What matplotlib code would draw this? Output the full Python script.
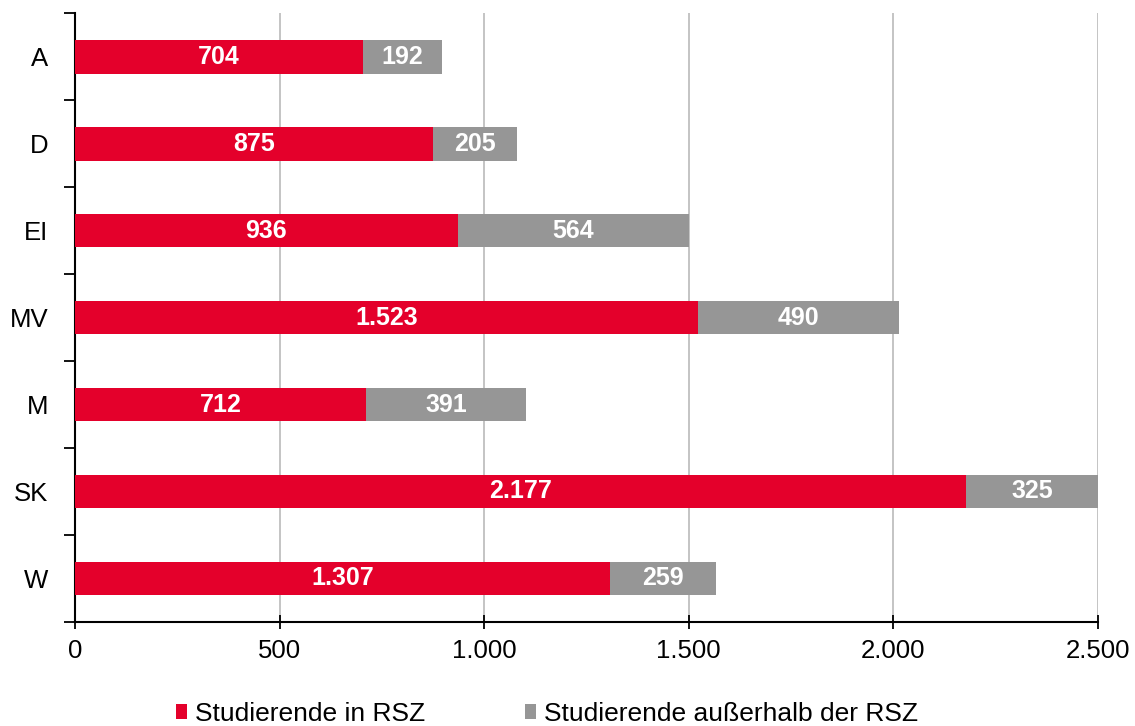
import matplotlib
matplotlib.use("Agg")
import matplotlib.pyplot as plt
from matplotlib.patches import Patch
import numpy as np

categories = ["A", "D", "EI", "MV", "M", "SK", "W"]
in_rsz = [704, 875, 936, 1523, 712, 2177, 1307]
outside_rsz = [192, 205, 564, 490, 391, 325, 259]
x_ticks = [0, 500, 1000, 1500, 2000, 2500]
series_names = ["Studierende in RSZ", "Studierende außerhalb der RSZ"]

RED = "#E4002B"
GREY = "#969696"

def fmt(v):
    return f"{v:,}".replace(",", ".")

plt.rcParams['font.family'] = ['Liberation Sans', 'DejaVu Sans']

fig = plt.figure(figsize=(11.35, 7.26), dpi=100)
ax = fig.add_axes([0.066, 0.1433, 0.9014, 0.8387])

n = len(categories)
y = np.arange(n)
h = 0.39
ax.barh(y, in_rsz, height=h, color=RED, zorder=3)
ax.barh(y, outside_rsz, left=in_rsz, height=h, color=GREY, zorder=3)

for yi, a, b in zip(y, in_rsz, outside_rsz):
    ax.text(a / 2, yi, fmt(a), ha="center", va="center", color="white",
            fontsize=18, fontweight="bold", zorder=4)
    ax.text(a + b / 2, yi, fmt(b), ha="center", va="center", color="white",
            fontsize=18, fontweight="bold", zorder=4)

ax.set_xlim(0, 2500)
ax.set_ylim(n - 0.5, -0.5)
ax.set_xticks(x_ticks)
ax.set_xticklabels([fmt(v) for v in x_ticks], fontsize=18.5)
ax.xaxis.grid(True, color="#BFBFBF", linewidth=1.3, zorder=0)
ax.tick_params(axis="x", direction="inout", length=10, width=1.3, pad=7)

ax.set_yticks(np.arange(-0.5, n, 1.0))
ax.set_yticklabels([])
ax.set_yticks(y, minor=True)
ax.set_yticklabels(categories, minor=True, fontsize=18.5)
ax.tick_params(axis="y", which="major", direction="out", length=8, width=1.3)
ax.tick_params(axis="y", which="minor", length=0, pad=19)

for s in ["top", "right"]:
    ax.spines[s].set_visible(False)
for s in ["left", "bottom"]:
    ax.spines[s].set_linewidth(1.5)
    ax.spines[s].set_color("black")

handles = [Patch(facecolor=RED, edgecolor="none"), Patch(facecolor=GREY, edgecolor="none")]
fig.legend(handles, series_names, loc="center", bbox_to_anchor=(0.482, 0.0165),
           ncol=2, frameon=False, fontsize=19, handlelength=0.42, handleheight=0.5,
           handletextpad=0.3, columnspacing=3.8, borderpad=0.1)

fig.savefig("out.png", dpi=100)
